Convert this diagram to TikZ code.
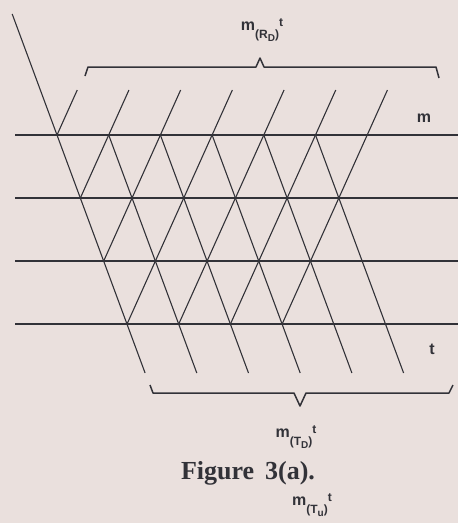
\documentclass[tikz,border=0pt]{standalone}
\usepackage{fontspec}
\setmainfont{Liberation Serif}
\newfontfamily\lblfont{Liberation Sans}
\definecolor{bgcol}{RGB}{234,224,221}
\definecolor{lncol}{RGB}{50,50,56}
\tikzset{
  hline/.style={draw=lncol, line width=1.8pt},
  latline/.style={draw=lncol, line width=1.1pt},
  bracepath/.style={draw=lncol, line width=1.5pt, line join=round},
  lbl/.style={font=\lblfont\bfseries\fontsize{16}{18}\selectfont, text=lncol, inner sep=0pt},
  figcap/.style={font=\bfseries\fontsize{26}{30}\selectfont, text=lncol, inner sep=0pt}
}
\newcommand{\mlabel}[2]{m\raisebox{-0.45em}{\fontsize{12}{14}\selectfont(#1\raisebox{-0.3em}{\fontsize{10}{12}\selectfont #2})}\raisebox{0.3em}{\fontsize{12}{14}\selectfont t}}
\begin{document}
\begin{tikzpicture}[x=1pt,y=-1pt]
\fill[bgcol] (0,0) rectangle (458,523);
\useasboundingbox (0,0) rectangle (458,523);
% horizontal lines
\foreach \y in {135,198,261,324} \draw[hline] (15,\y) -- (458,\y);
% descending lines
\draw[latline] (12.2,14) -- (145.1,373);
\foreach \k in {1,...,5} \draw[latline] ({57+51.7*\k},135) -- ({145.1+51.7*\k},373);
% ascending lines
\foreach \j/\ye in {0/135,1/198,2/261,3/324,4/324,5/324,6/324}
  \draw[latline] ({77.25+51.7*\j},90) -- ({57+51.7*\j-0.45*(\ye-135)},\ye);
% braces
\draw[bracepath] (85,76) -- (88,67) -- (256,67) -- (260,58) -- (264,67) -- (436,67) -- (439,78);
\draw[bracepath] (150,385) -- (153,393) -- (294,393) -- (300,406) -- (306,393) -- (449,393) -- (453,385);
% labels
\node[lbl] (rd) at (262,30) {\mlabel{R}{D}};
\node[lbl] (td) at (296,437) {\mlabel{T}{D}};
\node[lbl] (tu) at (312,505) {\mlabel{T}{u}};
\node[figcap] (fig) at (248,473) {Figure\, 3(a).};
\node[lbl] (m) at (424,118) {m};
\node[lbl] (t) at (432,349) {t};
\end{tikzpicture}
\end{document}
